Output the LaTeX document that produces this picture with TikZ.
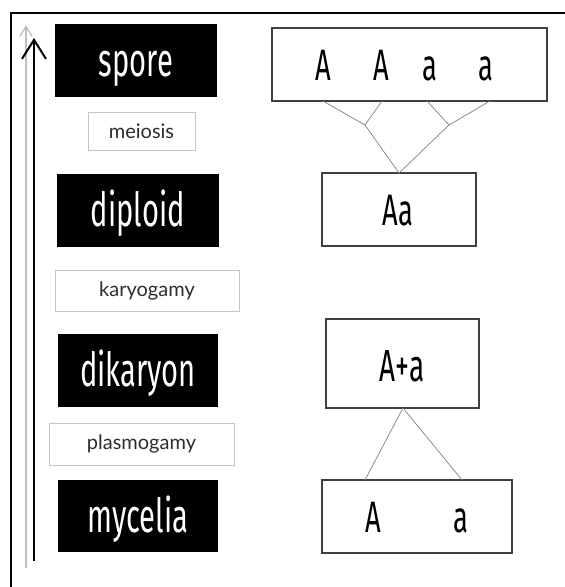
\documentclass[tikz,border=0pt]{standalone}
\usepackage{fontspec}
\setmainfont[FakeStretch=0.62]{Fira Sans}
\newfontfamily\labelfont{Lato}
\usepackage{tikz}
\usetikzlibrary{arrows.meta,positioning,calc}

\definecolor{procgray}{RGB}{200,196,192}
\definecolor{boxgray}{RGB}{64,64,64}
\definecolor{linegray}{RGB}{128,128,128}
\definecolor{axisgray}{RGB}{190,190,190}
\definecolor{labeltext}{RGB}{45,45,45}

\tikzset{
  stage/.style={fill=black,text=white,inner sep=0pt,minimum width=162pt,minimum height=73pt,
    text height=32pt,text depth=0pt,font=\fontsize{47}{47}\selectfont},
  process/.style={draw=procgray,line width=0.8pt,inner sep=0pt,minimum height=40pt,
    text=labeltext,font=\labelfont\fontsize{20}{20}\selectfont},
  genobox/.style={draw=boxgray,line width=1.2pt,inner sep=0pt,minimum height=73pt},
  allele/.style={inner sep=0pt,anchor=base,font=\fontsize{44}{44}\selectfont},
  branch/.style={draw=linegray,line width=0.7pt}
}

\begin{document}
\begin{tikzpicture}[x=1pt,y=-1pt]
\useasboundingbox (0,0) rectangle (565,587);
% frame
\draw[line width=2pt] (11,590) -- (11,13) -- (570,13);
% time arrows
\coordinate (g0) at (26,568);
\coordinate (g1) at (26,25);
\coordinate (b0) at (34,561);
\coordinate (b1) at (34,38);
\draw[axisgray,line width=1.3pt,-{Straight Barb[length=10pt,width=12pt]}] (g0) -- (g1);
\draw[line width=2.4pt,-{Straight Barb[length=19pt,width=24pt,line width=2pt]}] (b0) -- (b1);

% stages
\node[stage] (spore) at (136,60.5) {spore};
\node[process,minimum width=107pt,minimum height=38pt] (meiosis) at (141.5,131) {meiosis};
\node[stage] (diploid) at (138,210) {diploid};
\node[process,minimum width=184pt,minimum height=41pt] (karyogamy) at (147,290.5) {karyogamy};
\node[stage,minimum width=160pt] (dikaryon) at (138,370.5) {dikaryon};
\node[process,minimum width=185pt,minimum height=42pt] (plasmogamy) at (141.5,444) {plasmogamy};
\node[stage,minimum width=160pt,minimum height=72pt] (mycelia) at (138,516) {mycelia};

% genotypes
\node[genobox,minimum width=275pt] (tetrad) at (409.5,64.5) {};
\node[allele] (t1) at (323,80) {A};
\node[allele] (t2) at (381,80) {A};
\node[allele] (t3) at (430,80) {a};
\node[allele] (t4) at (486,80) {a};
\node[genobox,minimum width=154pt] (zygote) at (399,209.5) {};
\node[allele] (z1) at (398,225) {Aa};
\node[genobox,minimum width=153pt,minimum height=89pt] (pair) at (402.5,363.5) {};
\node[allele,font=\fontsize{45}{45}\selectfont] (p1) at (402,381) {A+a};
\node[genobox,minimum width=190pt] (haploid) at (417,516.5) {};
\node[allele] (h1) at (373,532) {A};
\node[allele] (h2) at (461,532) {a};

% branching
\coordinate (s1) at (323,101);
\coordinate (s2) at (382,101);
\coordinate (s3) at (427,101);
\coordinate (s4) at (490,101);
\coordinate (j1) at (365,125);
\coordinate (j2) at (449,125);
\coordinate (zt) at (399,173);
\coordinate (pb) at (403,408);
\coordinate (m1) at (365,480);
\coordinate (m2) at (462,480);
\draw[branch] (s1) -- (j1) -- (s2);
\draw[branch] (s3) -- (j2) -- (s4);
\draw[branch] (j1) -- (zt) -- (j2);
\draw[branch] (m1) -- (pb) -- (m2);
\end{tikzpicture}
\end{document}
